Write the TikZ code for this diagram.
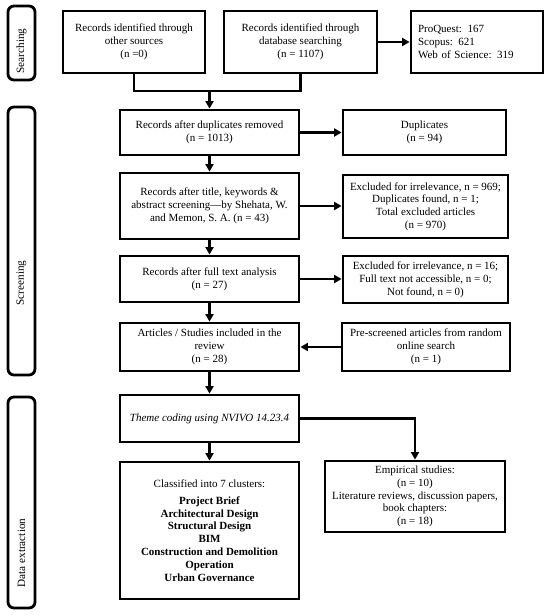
\documentclass[tikz,border=0pt]{standalone}
\usepackage{fontspec}
\setmainfont{Liberation Serif}
\usetikzlibrary{arrows.meta}
\tikzset{
  box/.style={draw=black, line width=2.8pt, inner sep=0pt, align=center,
    font=\fontsize{11}{12.8}\selectfont},
  side/.style={draw=black, line width=2.8pt, rounded corners=6pt, minimum width=27pt},
  sidelabel/.style={rotate=90, font=\fontsize{11.2}{12}\selectfont, inner sep=0pt},
  conn/.style={line width=2.6pt, -{Triangle[length=7.5pt,width=8pt]}},
  plain/.style={line width=2.6pt}
}
\begin{document}
\begin{tikzpicture}[x=1pt,y=-1pt]
\useasboundingbox (0,0) rectangle (550,615);
% sidebars
\node[side, minimum height=74pt] (s1) at (21.5,43) {};
\node[side, minimum height=268pt] (s2) at (21.5,241) {};
\node[side, minimum height=211pt] (s3) at (21.5,502.5) {};
\node[sidelabel] (l1) at (21.5,51) {Searching};
\node[sidelabel] (l2) at (21.5,283) {Screening};
\node[sidelabel] (l3) at (21.5,553) {Data extraction};
% boxes
\node[box, minimum width=142pt, minimum height=62pt] (b1) at (134,42) {Records identified through\\other sources\\(n =0)};
\node[box, minimum width=153pt, minimum height=62pt] (b2) at (300.5,42) {Records identified through\\database searching\\(n = 1107)};
\node[box, minimum width=132pt, minimum height=62pt, text width=118pt, inner xsep=7pt, align=left] (b3) at (477,42) {ProQuest: 167\\Scopus: 621\\Web of Science: 319};
\node[box, minimum width=179pt, minimum height=45pt] (b4) at (209.5,132.5) {Records after duplicates removed\\(n = 1013)};
\node[box, minimum width=163pt, minimum height=45pt] (d) at (424.5,132.5) {Duplicates\\(n = 94)};
\node[box, minimum width=179pt, minimum height=66pt] (b5) at (209.5,206) {Records after title, keywords \&\\abstract screening—by Shehata, W.\\and Memon, S. A. (n = 43)};
\node[box, minimum width=165pt, minimum height=63pt] (e1) at (425.5,206.5) {Excluded for irrelevance, n = 969;\\Duplicates found, n = 1;\\Total excluded articles\\(n = 970)};
\node[box, minimum width=179pt, minimum height=46pt] (b6) at (209.5,279) {Records after full text analysis\\(n = 27)};
\node[box, minimum width=165pt, minimum height=47pt] (e2) at (425.5,279.5) {Excluded for irrelevance, n = 16;\\Full text not accessible, n = 0;\\Not found, n = 0)};
\node[box, minimum width=179pt, minimum height=48pt] (b7) at (209.5,347) {Articles / Studies included in the\\review\\(n = 28)};
\node[box, minimum width=168pt, minimum height=48pt] (p) at (426,347) {Pre-screened articles from random\\online search\\(n = 1)};
\node[box, minimum width=179pt, minimum height=47pt] (b8) at (209.5,418.5) {\itshape Theme coding using NVIVO 14.23.4};
\node[box, minimum width=179pt, minimum height=137pt] (b9) at (209.5,530.5) {Classified into 7 clusters:\\[4pt]
\bfseries Project Brief\\\bfseries Architectural Design\\\bfseries Structural Design\\\bfseries BIM\\\bfseries Construction and Demolition\\\bfseries Operation\\\bfseries Urban Governance};
\node[box, minimum width=180pt, minimum height=71pt] (emp) at (415,496.5) {Empirical studies:\\(n = 10)\\Literature reviews, discussion papers,\\book chapters:\\(n = 18)};
% connectors
\coordinate (j) at (209.5,91);
\draw[plain] (b1.south) |- (j) -| (b2.south);
\draw[conn] (j) -- (b4.north);
\draw[conn] (b2.east) -- (b3.west);
\draw[conn] (b4.east) -- (d.west);
\draw[conn] (b4.south) -- (b5.north);
\draw[conn] (b5.east) -- (e1.west |- b5.east);
\draw[conn] (b5.south) -- (b6.north);
\draw[conn] (b6.east) -- (e2.west |- b6.east);
\draw[conn] (b6.south) -- (b7.north);
\draw[conn] (p.west) -- (b7.east);
\draw[conn] (b7.south) -- (b8.north);
\draw[conn] (b8.south) -- (b9.north);
\draw[conn] (b8.east) -| (emp.north);
\end{tikzpicture}
\end{document}
